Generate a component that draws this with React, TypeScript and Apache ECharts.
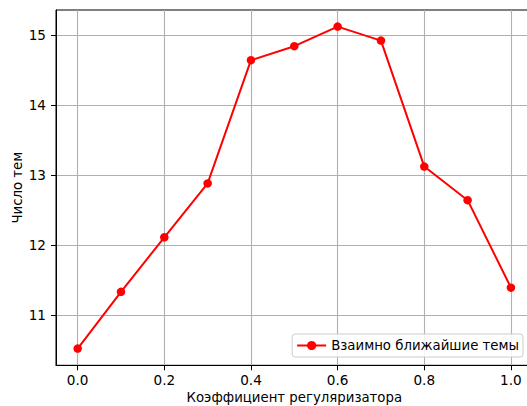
import React, { useEffect, useRef } from "react";
import * as echarts from "echarts";

const xValues = [0.0, 0.1, 0.2, 0.3, 0.4, 0.5, 0.6, 0.7, 0.8, 0.9, 1.0];
const yValues = [10.52, 11.33, 12.11, 12.88, 14.64, 14.84, 15.12, 14.92, 13.12, 12.64, 11.39];
const xTicks = [0.0, 0.2, 0.4, 0.6, 0.8, 1.0];
const yTicks = [11, 12, 13, 14, 15];
const seriesName = "Взаимно ближайшие темы";
const xTitle = "Коэффициент регуляризатора";
const yTitle = "Число тем";

const FONT = "DejaVu Sans";
const FS = 13.6;
const FS_T = 13.3;

export default function App() {
  const ref = useRef<HTMLDivElement>(null);
  useEffect(() => {
    if (!ref.current) return;
    const chart = echarts.init(ref.current, null, { renderer: "svg" });
    const data = xValues.map((x, i) => [x, yValues[i]]);
    chart.setOption({
      animation: false,
      backgroundColor: "#ffffff",
      grid: {
        left: 56,
        top: 10,
        width: 476.6,
        height: 355.3,
        outerBoundsMode: "none",
        containLabel: false,
        show: true,
        borderColor: "#000000",
        borderWidth: 1,
        backgroundColor: "transparent",
      },
      xAxis: {
        type: "value",
        min: -0.05,
        max: 1.05,
        name: xTitle,
        nameLocation: "middle",
        nameGap: 26,
        nameMoveOverlap: false,
        nameTextStyle: { fontFamily: FONT, fontSize: FS_T, color: "#000" },
        axisLine: { show: true, onZero: false, lineStyle: { color: "#000", width: 1 } },
        axisTick: { show: true, inside: false, length: 5, customValues: xTicks, lineStyle: { color: "#000", width: 1 } },
        axisLabel: {
          customValues: xTicks,
          margin: 8,
          fontFamily: FONT,
          fontSize: FS,
          color: "#000",
          formatter: (v: number) => v.toFixed(1),
        },
        splitLine: { show: true, lineStyle: { color: "#b0b0b0", width: 1.1 } },
      },
      yAxis: {
        type: "value",
        min: 10.281,
        max: 15.357,
        name: yTitle,
        nameLocation: "middle",
        nameRotate: 90,
        nameGap: 32,
        nameMoveOverlap: false,
        nameTextStyle: { fontFamily: FONT, fontSize: FS_T, color: "#000" },
        axisLine: { show: true, onZero: false, lineStyle: { color: "#000", width: 1 } },
        axisTick: { show: true, inside: false, length: 5, customValues: yTicks, lineStyle: { color: "#000", width: 1 } },
        axisLabel: {
          customValues: yTicks,
          margin: 10,
          fontFamily: FONT,
          fontSize: FS,
          color: "#000",
          formatter: (v: number) => String(Math.round(v)),
        },
        splitLine: { show: true, lineStyle: { color: "#b0b0b0", width: 1.1 } },
      },
      legend: {
        show: true,
        right: 4,
        bottom: 49,
        orient: "horizontal",
        itemWidth: 29,
        itemHeight: 11.5,
        itemGap: 10,
        padding: [5, 4, 5, 4],
        backgroundColor: "rgba(255,255,255,0.85)",
        borderColor: "#cccccc",
        borderWidth: 1,
        borderRadius: 3,
        textStyle: { fontFamily: FONT, fontSize: FS_T, color: "#000", lineHeight: 12 },
        data: [seriesName],
      },
      series: [
        {
          name: seriesName,
          type: "line",
          data,
          symbol: "circle",
          symbolSize: 8.5,
          lineStyle: { color: "#ff0000", width: 2 },
          itemStyle: { color: "#ff0000" },
          clip: false,
        },
      ],
    });
    return () => chart.dispose();
  }, []);
  return (
    <div
      ref={ref}
      style={{ position: "fixed", left: 0, top: 0, width: 527, height: 406 }}
    />
  );
}
